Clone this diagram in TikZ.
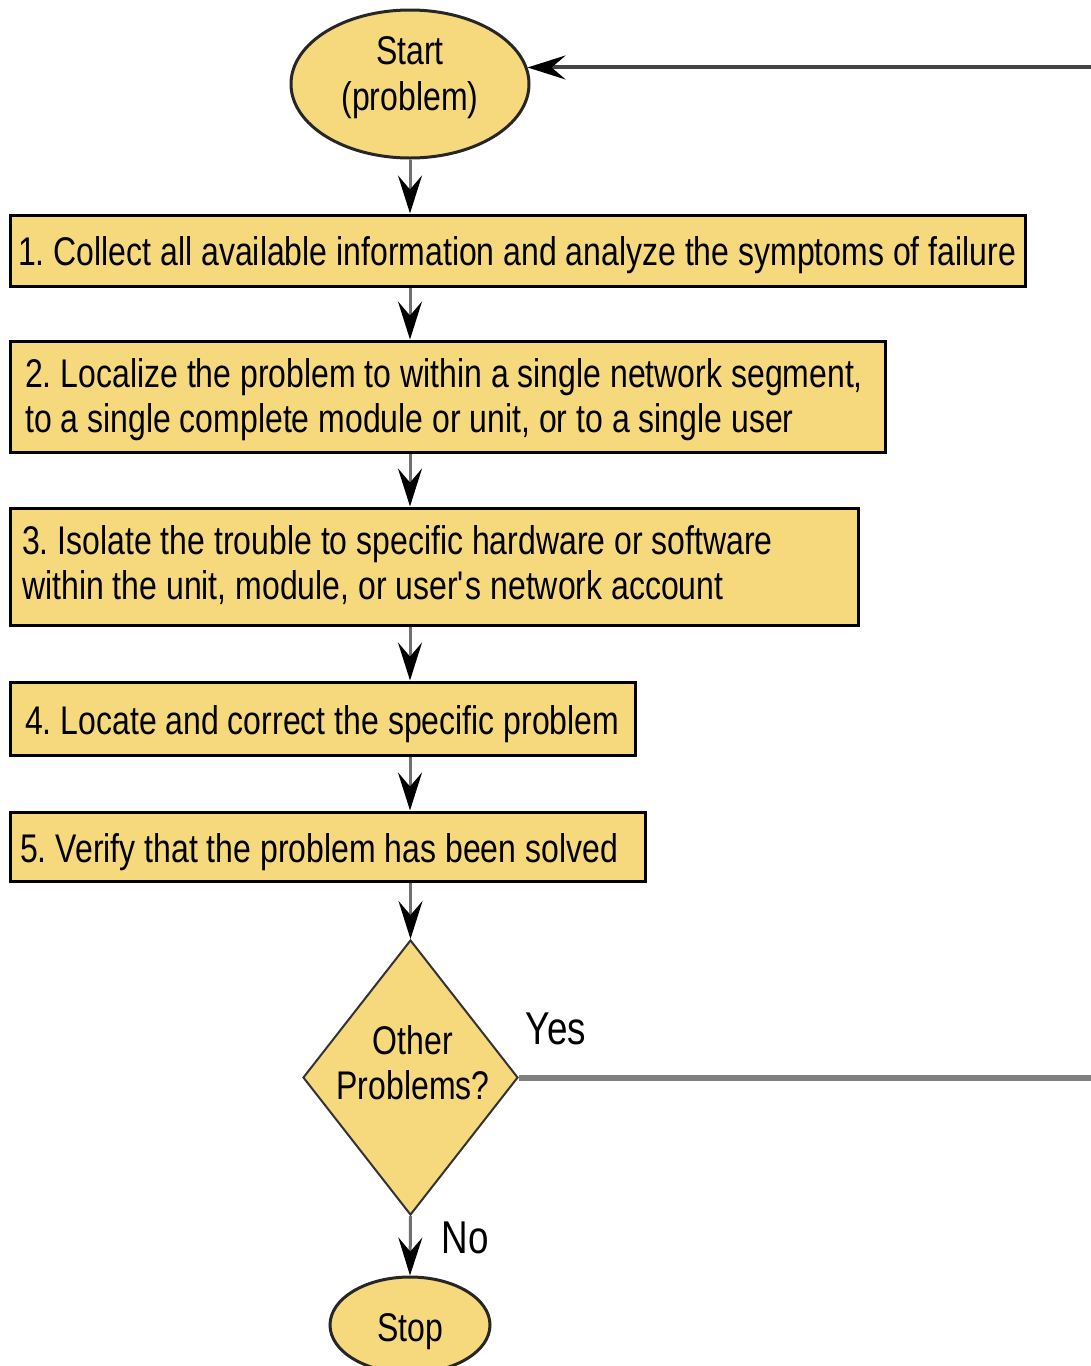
\documentclass[tikz,border=0pt]{standalone}
\usepackage{fontspec}
\setmainfont[FakeStretch=0.8]{Liberation Sans}
\usetikzlibrary{shapes.geometric,arrows.meta}
\definecolor{boxfill}{RGB}{245,217,124}
\definecolor{flowgray}{RGB}{112,112,112}
\definecolor{yesgray}{RGB}{128,128,128}
\definecolor{retgray}{RGB}{68,68,68}
\begin{document}
\frenchspacing
\begin{tikzpicture}[x=1pt,y=-1pt,
  stepbox/.style={draw=black, line width=3pt, fill=boxfill, inner sep=0pt},
  steptext/.style={anchor=base west, inner sep=0pt, font=\fontsize{40}{45}\selectfont},
  term/.style={ellipse, draw=black!85, line width=3pt, fill=boxfill, inner sep=0pt},
  decision/.style={diamond, draw=black!80, line width=2pt, fill=boxfill, inner sep=0pt},
  midtext/.style={anchor=base, inner sep=0pt, font=\fontsize{40}{45}\selectfont},
  lbl/.style={anchor=base, inner sep=0pt, font=\fontsize{46}{50}\selectfont},
  tip/.style={-{Stealth[length=38pt,width=24pt,inset=14pt,color=black]}},
  flow/.style={draw=flowgray, line width=3pt, tip},
  yesline/.style={draw=yesgray, line width=6pt},
  retline/.style={draw=retgray, line width=4pt, tip}
]
\useasboundingbox (0,0) rectangle (1091,1366);
\clip (0,0) rectangle (1091,1366);

% terminals
\node[term, minimum width=238pt, minimum height=148pt] (start) at (410,84) {};
\node[midtext] (starta) at (410,64) {Start};
\node[midtext] (startb) at (410,110) {(problem)};

% process steps
\node[stepbox, minimum width=1015pt, minimum height=71pt] (b1) at (517.5,250.5) {};
\node[steptext] (t1) at (18,265) {1. Collect all available information and analyze the symptoms of failure};

\node[stepbox, minimum width=875pt, minimum height=111pt] (b2) at (447.5,396.5) {};
\node[steptext] (t2a) at (25,387) {2. Localize the problem to within a single network segment,};
\node[steptext] (t2b) at (25,432) {to a single complete module or unit, or to a single user};

\node[stepbox, minimum width=848pt, minimum height=117pt] (b3) at (434,566.5) {};
\node[steptext] (t3a) at (22,554) {3. Isolate the trouble to specific hardware or software};
\node[steptext] (t3b) at (22,599) {within the unit, module, or user\textquotesingle s network account};

\node[stepbox, minimum width=625pt, minimum height=73pt] (b4) at (322.5,718.5) {};
\node[steptext] (t4) at (25,734) {4. Locate and correct the specific problem};

\node[stepbox, minimum width=635pt, minimum height=69pt] (b5) at (327.5,846.5) {};
\node[steptext] (t5) at (20,862) {5. Verify that the problem has been solved};

% decision
\node[decision, minimum width=215pt, minimum height=275pt] (dia) at (410.5,1077.5) {};
\node[midtext] (diaa) at (413,1054) {Other};
\node[midtext] (diab) at (413,1099) {Problems?};

\node[term, minimum width=160pt, minimum height=96pt] (stop) at (410,1325) {};
\node[midtext] (stoptext) at (410,1341) {Stop};

\node[lbl] (yes) at (556,1044) {Yes};
\node[lbl] (no) at (465,1253) {No};

% main flow
\draw[flow] (start.south) -- (start.south |- b1.north);
\draw[flow] (b1.south -| start) -- (b2.north -| start);
\draw[flow] (b2.south -| start) -- (b3.north -| start);
\draw[flow] (b3.south -| start) -- (b4.north -| start);
\draw[flow] (b4.south -| start) -- (b5.north -| start);
\draw[flow] (b5.south -| dia) -- (dia.north);
\draw[flow] (dia.south) -- (stop.north);

% loop back for further problems
\path (dia.east) -- ++(700,0) coordinate (yesend);
\path (start.8) -- ++(700,0) coordinate (retstart);
\draw[yesline] (dia.east) -- (yesend);
\draw[retline] (retstart) -- (start.8);
\end{tikzpicture}
\end{document}
